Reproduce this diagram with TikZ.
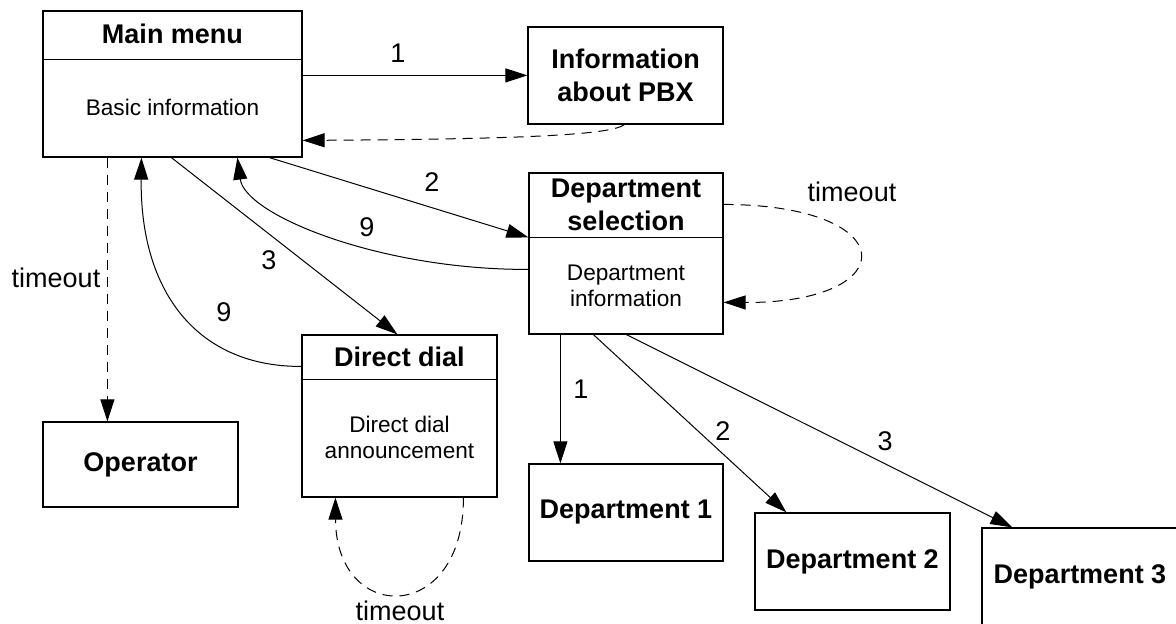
\documentclass[tikz,border=0pt]{standalone}
\usepackage{fontspec}
\setmainfont{Liberation Sans}
\usetikzlibrary{arrows.meta,calc}
\begin{document}
\begin{tikzpicture}[x=1pt,y=-1pt,
  box/.style={draw,line width=1.2pt,inner sep=0pt},
  divider/.style={line width=1.2pt},
  titlef/.style={font=\fontsize{27}{33}\selectfont\bfseries,align=center,inner sep=0pt},
  bodyf/.style={font=\fontsize{22.6}{26.5}\selectfont,align=center,inner sep=0pt},
  lbl/.style={font=\fontsize{27}{31}\selectfont,inner sep=0pt},
  conn/.style={line width=1pt,-{Triangle[length=22pt,width=14pt]}},
  dconn/.style={conn,dash pattern=on 10pt off 7pt}]
\useasboundingbox (0,0) rectangle (1176,624);
\fill[white] (0,0) rectangle (1176,624);

% boxes
\node[box,minimum width=259pt,minimum height=146pt] (mm) at (172.5,84) {};
\draw[divider] ($(mm.north west)+(0,49)$) -- ($(mm.north east)+(0,49)$);
\node[titlef] (mmt) at (172.5,34) {Main menu};
\node[bodyf] (mmb) at (172.5,107) {Basic information};

\node[box,minimum width=195pt,minimum height=97pt] (pbx) at (625.5,75.5) {};
\node[titlef] (pbxt) at (625.5,75.5) {Information\\about PBX};

\node[box,minimum width=194pt,minimum height=161pt] (ds) at (626,253.5) {};
\draw[divider] ($(ds.north west)+(0,65)$) -- ($(ds.north east)+(0,65)$);
\node[titlef] (dst) at (626,205) {Department\\selection};
\node[bodyf] (dsb) at (626,286) {Department\\information};

\node[box,minimum width=195pt,minimum height=162pt] (dd) at (399.5,416) {};
\draw[divider] ($(dd.north west)+(0,45)$) -- ($(dd.north east)+(0,45)$);
\node[titlef] (ddt) at (399.5,357) {Direct dial};
\node[bodyf] (ddb) at (399.5,437.5) {Direct dial\\announcement};

\node[box,minimum width=195pt,minimum height=85pt] (op) at (140.5,464.5) {};
\node[titlef] (opt) at (140.5,464.5) {Operator};

\node[box,minimum width=194pt,minimum height=97pt] (d1) at (626,512.5) {};
\node[titlef] (d1t) at (626,512.5) {Department 1};
\node[box,minimum width=195pt,minimum height=97pt] (d2) at (852.5,561.5) {};
\node[titlef] (d2t) at (852.5,561.5) {Department 2};
\node[box,minimum width=196pt,minimum height=97pt] (d3) at (1080,576.5) {};
\node[titlef] (d3t) at (1080,577) {Department 3};

% connectors
\draw[conn] ($(mm.north east)+(0,65)$) -- ($(pbx.north west)+(0,49)$);
\draw[dconn] ($(pbx.south west)+(97,0)$) .. controls (612,134) and (540,139) .. ($(mm.north east)+(0,130)$);
\draw[conn] ($(mm.south west)+(227,0)$) -- ($(ds.north west)+(0,65)$);
\draw[conn] ($(ds.north west)+(0,97)$) .. controls (380,270) and (245,215) .. ($(mm.south west)+(195,0)$);
\draw[conn] ($(mm.south west)+(129,0)$) -- ($(dd.north west)+(96,0)$);
\draw[conn] ($(dd.north west)+(0,32)$) .. controls (200,367) and (140,295) .. ($(mm.south west)+(99,0)$);
\draw[dconn] ($(mm.south west)+(65,0)$) -- ($(op.north west)+(65,0)$);
\draw[dconn] ($(ds.north east)+(0,32)$) .. controls (904,205) and (904,303) .. ($(ds.north east)+(0,130)$);
\draw[dconn] ($(dd.south west)+(162,0)$) .. controls (464,625) and (336,625) .. ($(dd.south west)+(34,0)$);
\draw[conn] ($(ds.south west)+(32,0)$) -- ($(d1.north west)+(32,0)$);
\draw[conn] ($(ds.south west)+(65,0)$) -- ($(d2.north west)+(32,0)$);
\draw[conn] ($(ds.south west)+(98,0)$) -- ($(d3.north west)+(31,0)$);

% labels
\node[lbl] (l1) at (398,53) {1};
\node[lbl] (l2) at (432,182) {2};
\node[lbl] (l9a) at (367,227) {9};
\node[lbl] (l3) at (269,260) {3};
\node[lbl] (l9b) at (224,312) {9};
\node[lbl] (lt1) at (56,278) {timeout};
\node[lbl] (lt2) at (852,192) {timeout};
\node[lbl] (lt3) at (400,611) {timeout};
\node[lbl] (ld1) at (581,389) {1};
\node[lbl] (ld2) at (723,431) {2};
\node[lbl] (ld3) at (885,441) {3};
\end{tikzpicture}
\end{document}
